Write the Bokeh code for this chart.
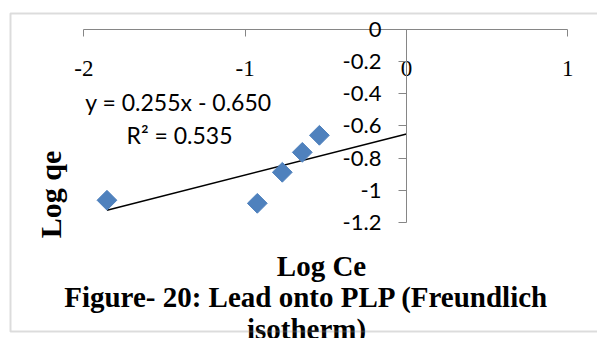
import math
from bokeh.plotting import figure
from bokeh.models import (LinearAxis, FixedTicker, Label, BoxAnnotation, Range1d,
                          CustomJSTickFormatter)
from bokeh.embed import file_html
from bokeh.resources import INLINE

# ---- data ----
log_ce = [-1.857, -0.925, -0.770, -0.646, -0.540]
log_qe = [-1.062, -1.081, -0.888, -0.764, -0.658]
slope = 0.255
intercept = -0.650
r_squared = 0.535
trend_end = 0.0
x_ticks = [-2, -1, 0, 1]
y_ticks = [-1.2, -1.0, -0.8, -0.6, -0.4, -0.2, 0.0]
x_title = "Log Ce"
y_title = "Log qe"
caption_lines = ["Figure- 20: Lead onto PLP (Freundlich", "isotherm)"]

# ---- layout (pixel geometry of the canvas) ----
W, H = 597, 338
X0_PX, Y0_PX = 406.0, 29.0      # pixel position of data (0, 0)
SX, SY = 161.3, 160.8           # pixels per data unit


def px_x(px):
    return (px - X0_PX) / SX


def px_y(py):
    return (Y0_PX - py) / SY


p = figure(width=W, height=H,
           x_range=Range1d(px_x(0), px_x(W)), y_range=Range1d(px_y(H), px_y(0)),
           output_backend="svg", toolbar_location=None, min_border=0,
           x_axis_type=None, y_axis_type=None, background_fill_color="white",
           border_fill_color="white")
p.grid.visible = False
p.outline_line_color = None

AXIS_COLOR = "#868686"

xa = LinearAxis(ticker=FixedTicker(ticks=x_ticks), fixed_location=0,
                bounds=(min(x_ticks), max(x_ticks)))
xa.axis_line_color = AXIS_COLOR
xa.major_tick_line_color = AXIS_COLOR
xa.major_tick_out = 7
xa.major_tick_in = 0
xa.minor_tick_line_color = None
xa.major_label_text_font = "Liberation Serif"
xa.major_label_text_font_size = "23px"
xa.major_label_text_color = "black"
xa.major_label_standoff = 24
xa.formatter = CustomJSTickFormatter(code="return String(Math.round(tick*10)/10)")
p.add_layout(xa, "below")

ya = LinearAxis(ticker=FixedTicker(ticks=y_ticks), fixed_location=0,
                bounds=(min(y_ticks), max(y_ticks)))
ya.axis_line_color = AXIS_COLOR
ya.major_tick_line_color = AXIS_COLOR
ya.major_tick_out = 8
ya.major_tick_in = 0
ya.minor_tick_line_color = None
ya.major_label_text_font = "Lato"
ya.major_label_text_font_size = "22px"
ya.major_label_text_color = "black"
ya.major_label_standoff = 17
ya.formatter = CustomJSTickFormatter(code="return String(Math.round(tick*10)/10)")
p.add_layout(ya, "left")

# trendline
x_start = min(log_ce)
p.line([x_start, trend_end],
       [slope * x_start + intercept, slope * trend_end + intercept],
       line_color="black", line_width=1.5)

# data points (diamonds)
p.scatter(log_ce, log_qe, marker="square", angle=math.pi / 4, size=14,
          fill_color="#4F81BD", line_color="#4F81BD")

# equation
sign = "-" if intercept < 0 else "+"
eq_text = f"y = {slope:.3f}x {sign} {abs(intercept):.3f}"
r2_text = f"R\u00b2 = {r_squared:.3f}"
for txt, (cx, by) in [(eq_text, (178, 101)), (r2_text, (179, 134))]:
    p.add_layout(Label(x=px_x(cx), y=px_y(by), text=txt, text_align="center",
                       text_baseline="alphabetic", text_font="Lato",
                       text_font_size="23px", text_color="black"))

# axis titles
p.add_layout(Label(x=px_x(50), y=px_y(194), text=y_title, angle=math.pi / 2,
                   text_align="center", text_baseline="alphabetic",
                   text_font="Liberation Serif", text_font_style="bold",
                   text_font_size="30px", text_color="black"))
p.add_layout(Label(x=px_x(321), y=px_y(265), text=x_title, text_align="center",
                   text_baseline="alphabetic", text_font="Liberation Serif",
                   text_font_style="bold", text_font_size="29px", text_color="black"))

# caption
for txt, (cx, by) in zip(caption_lines, [(306, 296), (306, 328)]):
    p.add_layout(Label(x=px_x(cx), y=px_y(by), text=txt, text_align="center",
                       text_baseline="alphabetic", text_font="Liberation Serif",
                       text_font_style="bold", text_font_size="29px",
                       text_color="black"))

# outer border box
p.add_layout(BoxAnnotation(left=px_x(10), right=px_x(610), top=px_y(13),
                           bottom=px_y(331), fill_alpha=0, line_color="#8c8c8c",
                           line_width=2, level="overlay"))

open("out.html", "w").write(file_html(p, INLINE))
